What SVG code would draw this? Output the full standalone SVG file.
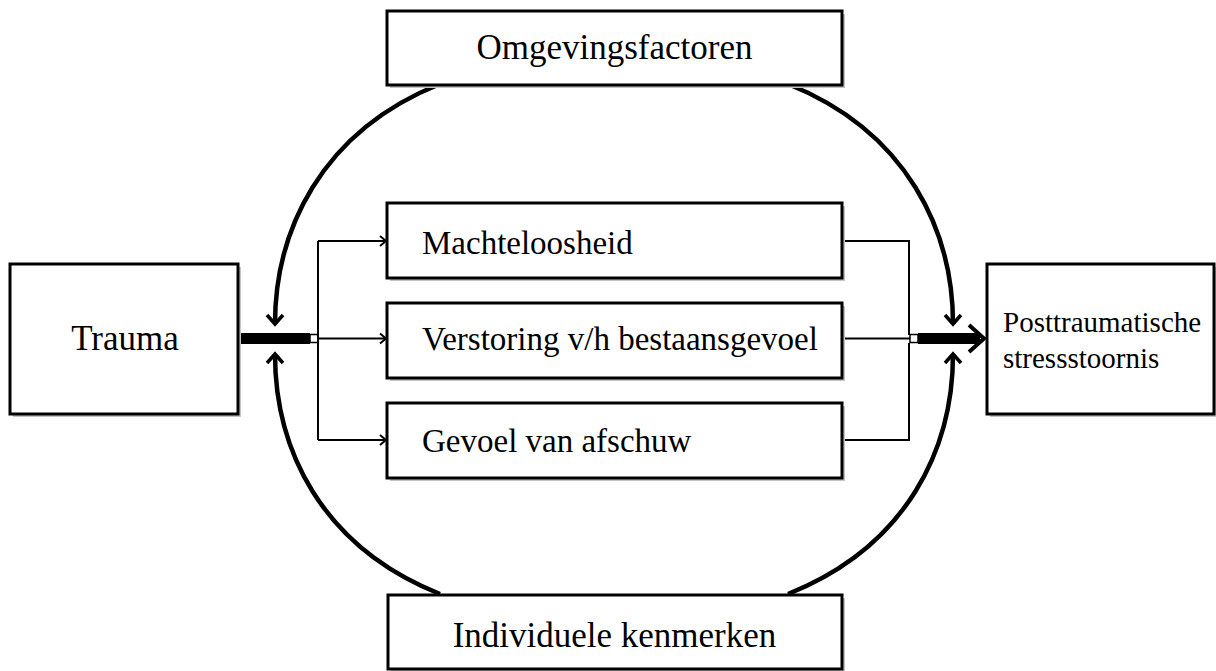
<svg xmlns="http://www.w3.org/2000/svg" width="1216" height="671" viewBox="0 0 1216 671">
<style>
.box{fill:#fff;stroke:#000;stroke-width:3}
.sh{fill:#c4c4c4}
.t{font-family:"Liberation Serif","Times New Roman",serif;fill:#000}
.arc{fill:none;stroke:#000;stroke-width:4.5}
.thin{fill:none;stroke:#000;stroke-width:2}
</style>
<defs>
<marker id="big" markerUnits="userSpaceOnUse" markerWidth="24" markerHeight="24" refX="11" refY="12" orient="auto-start-reverse" overflow="visible">
<path d="M2,4 L11,12 L2,20" fill="none" stroke="#000" stroke-width="3.5"/>
</marker>
<marker id="small" markerUnits="userSpaceOnUse" markerWidth="12" markerHeight="12" refX="7" refY="6" orient="auto" overflow="visible">
<path d="M1,1 L7,6 L1,11" fill="none" stroke="#000" stroke-width="2"/>
</marker>
</defs>
<g id="connectors">
<path class="arc" d="M440,84 C320,132 275,232 275,324" marker-end="url(#big)"/>
<path class="arc" d="M275,354 C275,448 320,546 440,594" marker-start="url(#big)"/>
<path class="arc" d="M788,84 C908,132 953,232 953,324" marker-end="url(#big)"/>
<path class="arc" d="M953,354 C953,448 908,546 788,594" marker-start="url(#big)"/>
<rect x="238" y="333" width="72" height="11" fill="#000"/>
<rect x="310" y="334.5" width="8" height="8" fill="#fff" stroke="#000" stroke-width="1.5"/>
<path class="thin" d="M318,241 L318,440"/>
<path class="thin" d="M318,241 L386,241" marker-end="url(#small)"/>
<path class="thin" d="M318,338.5 L386,338.5" marker-end="url(#small)"/>
<path class="thin" d="M318,440 L386,440" marker-end="url(#small)"/>
<path class="thin" d="M842,241 L909,241 L909,335"/>
<path class="thin" d="M842,440 L909,440 L909,343"/>
<path class="thin" d="M842,338.5 L910,338.5"/>
<rect x="910" y="334.5" width="8" height="8" fill="#fff" stroke="#000" stroke-width="1.5"/>
<rect x="918" y="333" width="62" height="11" fill="#000"/>
<path d="M969,325 L984,338.5 L969,352" fill="none" stroke="#000" stroke-width="4"/>
</g>
<g id="omgevingsfactoren">
<rect class="sh" x="390" y="14" width="455" height="74"/>
<rect class="box" x="387" y="11" width="455" height="74"/>
<text class="t" x="614.5" y="59" font-size="35" text-anchor="middle">Omgevingsfactoren</text>
</g>
<g id="individuele">
<rect class="sh" x="391" y="598" width="454" height="74"/>
<rect class="box" x="388" y="595" width="454" height="74"/>
<text class="t" x="614.5" y="647" font-size="35" text-anchor="middle">Individuele kenmerken</text>
</g>
<g id="trauma">
<rect class="sh" x="13" y="267" width="228" height="150"/>
<rect class="box" x="10" y="264" width="228" height="150"/>
<text class="t" x="125" y="350" font-size="35" text-anchor="middle">Trauma</text>
</g>
<g id="ptss">
<rect class="sh" x="990" y="267" width="227" height="150"/>
<rect class="box" x="987" y="264" width="227" height="150"/>
<text class="t" x="1003" y="332" font-size="29">Posttraumatische</text>
<text class="t" x="1003" y="368" font-size="29">stressstoornis</text>
</g>
<g id="machteloosheid">
<rect class="sh" x="390" y="206" width="455" height="75"/>
<rect class="box" x="387" y="203" width="455" height="75"/>
<text class="t" x="422" y="254" font-size="33">Machteloosheid</text>
</g>
<g id="verstoring">
<rect class="sh" x="390" y="306" width="455" height="75"/>
<rect class="box" x="387" y="303" width="455" height="75"/>
<text class="t" x="422" y="350" font-size="33">Verstoring v/h bestaansgevoel</text>
</g>
<g id="gevoel">
<rect class="sh" x="390" y="406" width="455" height="75"/>
<rect class="box" x="387" y="403" width="455" height="75"/>
<text class="t" x="422" y="452" font-size="33">Gevoel van afschuw</text>
</g>
</svg>
